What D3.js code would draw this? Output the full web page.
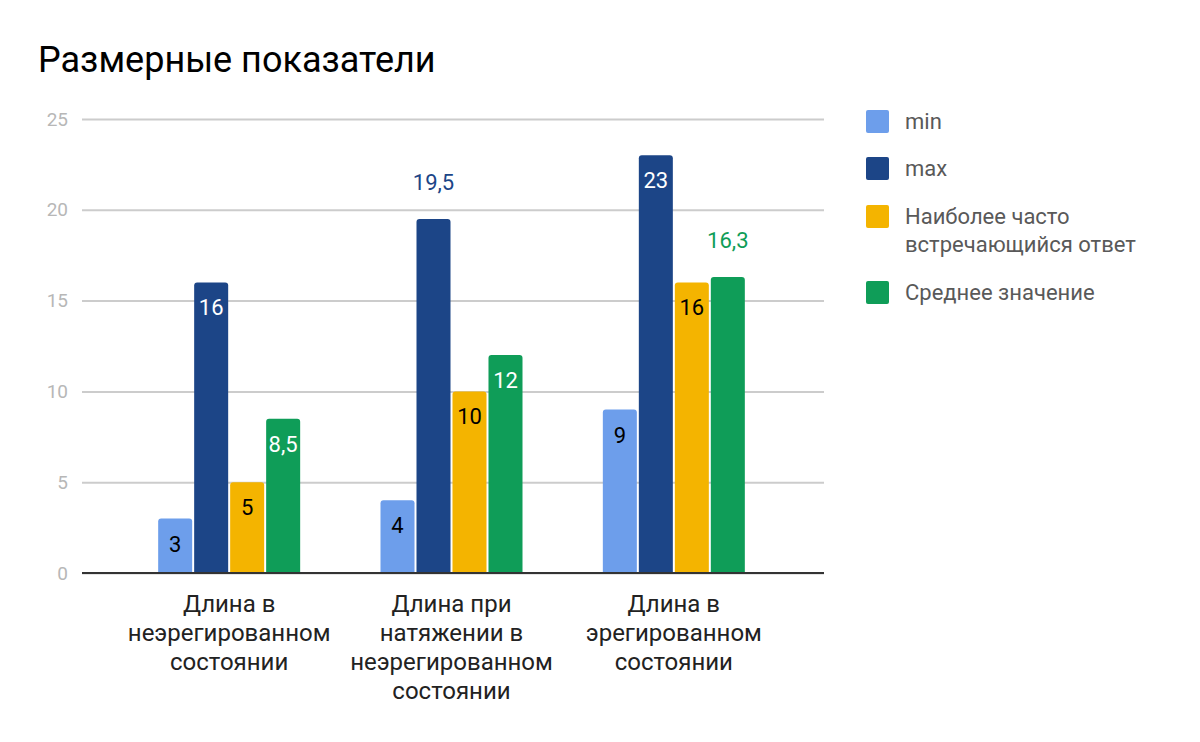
<!DOCTYPE html>
<html><head><meta charset="utf-8">
<script src="https://cdn.jsdelivr.net/npm/d3@7"></script>
<style>body{margin:0;background:#fff}svg{display:block;font-family:Roboto,"Noto Sans",sans-serif}</style>
</head><body>
<svg id="c" width="1200" height="742"></svg>
<script>
const title = "Размерные показатели";
const categories = [
  ["Длина в", "неэрегированном", "состоянии"],
  ["Длина при", "натяжении в", "неэрегированном", "состоянии"],
  ["Длина в", "эрегированном", "состоянии"]
];
const seriesNames = [["min"], ["max"], ["Наиболее часто", "встречающийся ответ"], ["Среднее значение"]];
const seriesColors = ["#6d9eeb", "#1c4587", "#f4b400", "#0f9d58"];
const labelColorsInside = ["#000000", "#ffffff", "#000000", "#ffffff"];
const minValues = [3, 4, 9];
const maxValues = [16, 19.5, 23];
const modeValues = [5, 10, 16];
const meanValues = [8.5, 12, 16.3];
const outsideLabels = [[], [1], [3]]; // per category: series indices whose label sits above the bar
const yTicks = [0, 5, 10, 15, 20, 25];

const series = [minValues, maxValues, modeValues, meanValues];
const svg = d3.select("#c");

const y = d3.scaleLinear().domain([0, 25]).range([573, 119]);
const x0 = d3.scaleBand().domain(d3.range(categories.length)).range([118, 785]).paddingInner(0).paddingOuter(0);
const groupW = 142;
const x1 = d3.scaleBand().domain(d3.range(series.length)).range([0, groupW]).paddingInner(0.055);

// title
svg.append("text").attr("x", 38).attr("y", 72).attr("font-size", 36).attr("fill", "#000").text(title);

// grid
const yAxis = d3.axisLeft(y).tickValues(yTicks).tickSize(-(824 - 82)).tickFormat(d3.format("d")).tickPadding(14);
const gy = svg.append("g").attr("transform", "translate(82,0)").call(yAxis);
gy.select(".domain").remove();
gy.selectAll(".tick line").attr("stroke", "#cccccc").attr("stroke-width", 2);
gy.selectAll(".tick text").attr("fill", "#b7b7b7").attr("font-size", 19).attr("font-family", "Roboto, sans-serif");

function topRounded(x, yTop, w, h, r) {
  r = Math.min(r, h);
  return `M${x},${yTop + h}V${yTop + r}Q${x},${yTop} ${x + r},${yTop}H${x + w - r}Q${x + w},${yTop} ${x + w},${yTop + r}V${yTop + h}Z`;
}

const fmt = v => String(v).replace(".", ",");

categories.forEach((cat, ci) => {
  const gx = x0(ci) + (x0.bandwidth() - groupW) / 2;
  const g = svg.append("g").attr("transform", `translate(${gx},0)`);
  series.forEach((s, si) => {
    const v = s[ci];
    const bx = x1(si), bw = x1.bandwidth();
    g.append("path").attr("d", topRounded(bx, y(v), bw, y(0) - y(v), 3)).attr("fill", seriesColors[si]);
    const outside = outsideLabels[ci].includes(si);
    g.append("text")
      .attr("x", bx + bw / 2)
      .attr("y", outside ? y(v) - 29 : y(v) + 33)
      .attr("text-anchor", "middle")
      .attr("font-size", 22)
      .attr("fill", outside ? seriesColors[si] : labelColorsInside[si])
      .text(fmt(v));
  });
  const t = svg.append("text").attr("text-anchor", "middle").attr("font-size", 24).attr("fill", "#222");
  cat.forEach((line, li) => {
    t.append("tspan").attr("x", x0(ci) + x0.bandwidth() / 2).attr("y", 612 + li * 29).text(line);
  });
});

// baseline
svg.append("line").attr("x1", 82).attr("x2", 824).attr("y1", y(0)).attr("y2", y(0)).attr("stroke", "#333").attr("stroke-width", 2);

// legend
const legendY = [121, 168, 216, 292];
seriesNames.forEach((names, i) => {
  svg.append("rect").attr("x", 866).attr("y", legendY[i] - 11).attr("width", 23).attr("height", 23).attr("rx", 2).attr("fill", seriesColors[i]);
  const t = svg.append("text").attr("font-size", 22).attr("fill", "#595959");
  names.forEach((n, li) => {
    t.append("tspan").attr("x", 905).attr("y", legendY[i] + 8 + li * 28).text(n);
  });
});
</script>
</body></html>
